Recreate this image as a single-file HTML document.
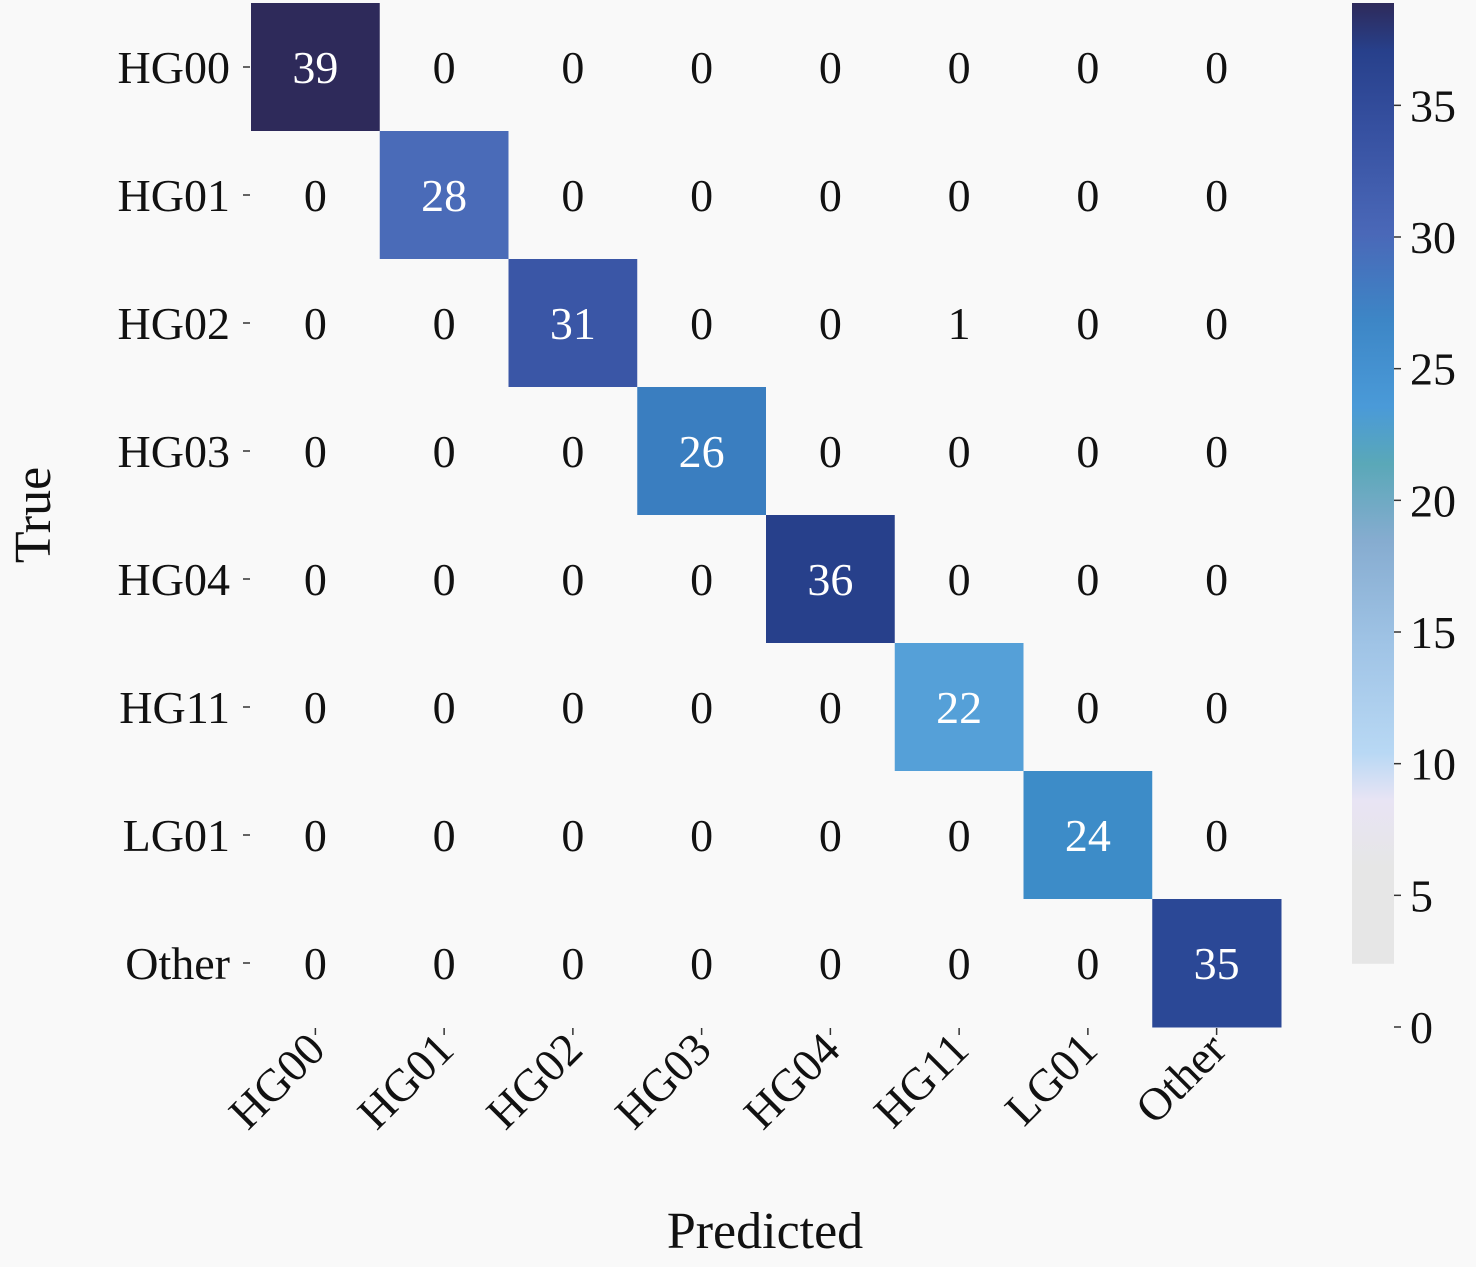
<!DOCTYPE html>
<html><head><meta charset="utf-8"><style>
body{margin:0;background:#f9f9f9;}
svg{display:block;font-family:"Liberation Serif",serif;}
</style></head><body>
<svg id="chart" width="1476" height="1267" xmlns="http://www.w3.org/2000/svg">
<rect width="1476" height="1267" fill="#f9f9f9"/>
<defs><linearGradient id="cbg" x1="0" y1="1" x2="0" y2="0">
<stop offset="0" stop-color="#e6e6e6"/><stop offset="0.1" stop-color="#e6e6e6"/>
<stop offset="0.17" stop-color="#e8e4f4"/><stop offset="0.22" stop-color="#b8d8f4"/>
<stop offset="0.33" stop-color="#a0c4e6"/><stop offset="0.44" stop-color="#86acd0"/>
<stop offset="0.52" stop-color="#5aa8b8"/><stop offset="0.58" stop-color="#4a9ad8"/>
<stop offset="0.67" stop-color="#3d86c6"/><stop offset="0.76" stop-color="#4a68b8"/>
<stop offset="0.87" stop-color="#3650a0"/><stop offset="0.95" stop-color="#27408b"/>
<stop offset="1" stop-color="#2e2a5a"/></linearGradient></defs>
<g id="cells"></g>
<g id="axes"></g>
</svg>
<script>
const classes=["HG00","HG01","HG02","HG03","HG04","HG11","LG01","Other"];
const row0=[39,0,0,0,0,0,0,0];
const row1=[0,28,0,0,0,0,0,0];
const row2=[0,0,31,0,0,1,0,0];
const row3=[0,0,0,26,0,0,0,0];
const row4=[0,0,0,0,36,0,0,0];
const row5=[0,0,0,0,0,22,0,0];
const row6=[0,0,0,0,0,0,24,0];
const row7=[0,0,0,0,0,0,0,35];
const cbTicks=[0,5,10,15,20,25,30,35];
const matrix=[row0,row1,row2,row3,row4,row5,row6,row7];
const NS="http://www.w3.org/2000/svg";
const X0=251,CW=128.75,Y0=3,CH=128,VMAX=39;
const stops=[[0,"#f9f9f9"],[2.4,"#f9f9f9"],[3,"#e6e6e6"],[6,"#e8e4f4"],[9,"#b8d8f4"],[13,"#a0c4e6"],[17,"#86acd0"],[20,"#5aa8b8"],[22,"#55a0d8"],[24,"#3d8cc8"],[26,"#3a7ec0"],[28,"#4a6bb8"],[31,"#3a56a6"],[35,"#2b4896"],[36,"#27408b"],[39,"#2e2a5a"]];
function hex(c){return [1,3,5].map(i=>parseInt(c.substr(i,2),16));}
function color(v){for(let i=1;i<stops.length;i++){if(v<=stops[i][0]){const a=stops[i-1],b=stops[i];const t=(v-a[0])/(b[0]-a[0]||1);const ca=hex(a[1]),cb=hex(b[1]);return "rgb("+ca.map((x,k)=>Math.round(x+(cb[k]-x)*t)).join(",")+")";}}return stops[stops.length-1][1];}
const xs=j=>X0+j*CW, ys=i=>Y0+i*CH;
const cells=document.getElementById("cells"), axes=document.getElementById("axes");
function mk(tag,attrs,parent,text){const e=document.createElementNS(NS,tag);for(const k in attrs)e.setAttribute(k,attrs[k]);if(text!==undefined)e.textContent=text;parent.appendChild(e);return e;}
matrix.forEach((row,i)=>row.forEach((v,j)=>{
  const r=mk("rect",{x:xs(j),y:ys(i),width:CW+0.5,height:CH+0.5,fill:v>2?color(v):"#f9f9f9"},cells);
  
  
  const t=mk("text",{x:xs(j)+CW/2,y:ys(i)+CH/2+16,"text-anchor":"middle","font-size":46,fill:v>2?"#ffffff":"#111"},cells,String(v));
  
  
}));
classes.forEach((c,i)=>{
  const t=mk("text",{x:230,y:ys(i)+CH/2+16,"text-anchor":"end","font-size":46,fill:"#111"},axes,c);
  
  
  mk("line",{x1:243,x2:250,y1:ys(i)+CH/2,y2:ys(i)+CH/2,stroke:"#333","stroke-width":1.5},axes);
  const cx=xs(i)+CW/2;
  mk("line",{x1:cx,x2:cx,y1:1028,y2:1035,stroke:"#333","stroke-width":1.5},axes);
  const lx=cx+12,ly=1052;
  const xt=mk("text",{x:lx,y:ly,"text-anchor":"end","font-size":46,fill:"#111",transform:"rotate(-45 "+lx+" "+ly+")"},axes,c);
  
  
});
const xl=mk("text",{x:765,y:1248,"text-anchor":"middle","font-size":52,fill:"#111"},axes,"Predicted");


const yl=mk("text",{x:50,y:515,"text-anchor":"middle","font-size":52,fill:"#111",transform:"rotate(-90 50 515)"},axes,"True");


// colorbar
const CBX=1352,CBW=42,CBB=1027,CBT=0;
const cy=v=>CBB-(v/VMAX)*(CBB-CBT);
const cb=mk("rect",{x:CBX,y:cy(VMAX)+3,width:CBW,height:cy(2.4)-cy(VMAX)-3,fill:"url(#cbg)"},axes);


cbTicks.forEach(v=>{
  mk("line",{x1:CBX+CBW,x2:CBX+CBW+7,y1:cy(v),y2:cy(v),stroke:"#333","stroke-width":1.5},axes);
  const t=mk("text",{x:CBX+CBW+16,y:cy(v)+16,"font-size":46,fill:"#111"},axes,String(v));
  
  
});
</script>
</body></html>
